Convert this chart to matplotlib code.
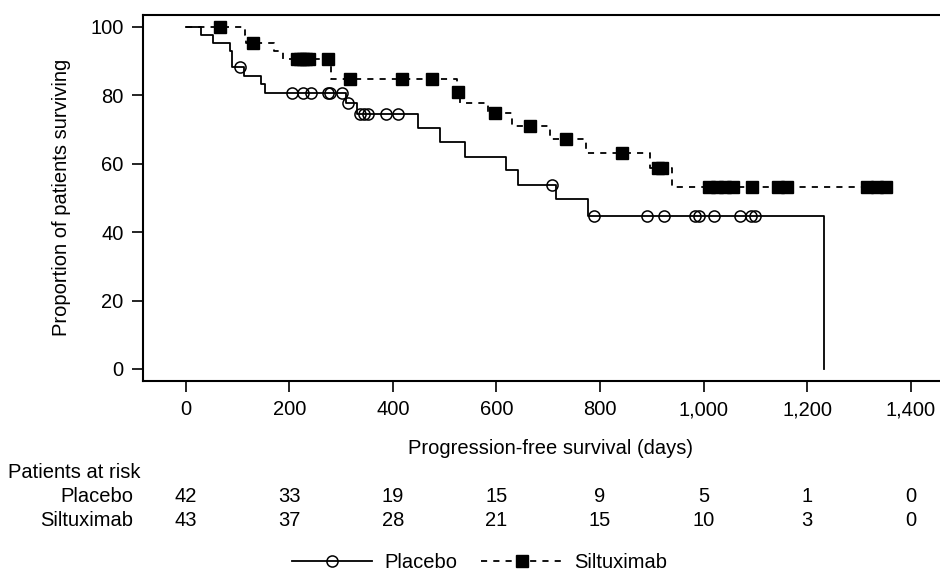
import matplotlib
matplotlib.use("Agg")
import matplotlib.pyplot as plt
import numpy as np
from matplotlib.lines import Line2D
from matplotlib.transforms import blended_transform_factory

plt.rcParams["font.family"] = ["Liberation Sans", "DejaVu Sans"]

# Kaplan-Meier steps (days, % surviving after the step)
PLACEBO_TIMES = [0, 30, 53, 86, 89, 113, 145, 154, 309, 331, 448, 490, 539, 618, 642, 714, 777, 1233]
PLACEBO_SURV = [100, 97.6, 95.2, 92.9, 88.1, 85.6, 83.2, 80.7, 77.8, 74.5, 70.3, 66.4, 62.0, 58.1, 53.8, 49.6, 44.7, 0]
PLACEBO_CENSOR = [105, 205, 226, 242, 275, 279, 301, 314, 336, 345, 352, 387, 410,
                  707, 789, 890, 924, 983, 991, 1020, 1071, 1091, 1099]

SILTUX_TIMES = [0, 114, 117, 171, 188, 280, 524, 530, 583, 629, 703, 773, 896, 938, 1352]
SILTUX_SURV = [100, 97.7, 95.3, 93.0, 90.6, 84.7, 81.0, 77.8, 74.7, 71.0, 67.2, 63.0, 58.6, 53.3, 53.3]
SILTUX_CENSOR = [66, 129, 215, 221, 227, 233, 239, 274, 317, 417, 476, 526, 597, 665, 734, 842,
                 911, 920, 1010, 1025, 1041, 1056, 1094, 1144, 1160, 1316, 1334, 1352]

RISK_TIMES = [0, 200, 400, 600, 800, 1000, 1200, 1400]
RISK_PLACEBO = [42, 33, 19, 15, 9, 5, 1, 0]
RISK_SILTUX = [43, 37, 28, 21, 15, 10, 3, 0]

Y_TICKS = [0, 20, 40, 60, 80, 100]

FS = 14.5
LW = 1.3
DASH = (0, (3.4, 3.4))


def _km_at(times, surv, t):
    """Value of the step curve at time t."""
    idx = np.searchsorted(np.asarray(times), np.asarray(t), side="right") - 1
    return np.asarray(surv)[idx]


fig = plt.figure(figsize=(9.4, 5.72), dpi=100)
# axes runs a bit past the right edge, like the cropped original
ax = fig.add_axes([143 / 940, (572 - 380.7) / 572, 814 / 940, 366 / 572])

ax.step(PLACEBO_TIMES, PLACEBO_SURV, where="post", color="black", lw=LW)
ax.plot(PLACEBO_CENSOR, _km_at(PLACEBO_TIMES, PLACEBO_SURV, PLACEBO_CENSOR), "o",
        mfc="none", mec="black", ms=8, mew=1.1, ls="none", zorder=3)

ax.step(SILTUX_TIMES, SILTUX_SURV, where="post", color="black", lw=LW, ls=DASH)
ax.plot(SILTUX_CENSOR, _km_at(SILTUX_TIMES, SILTUX_SURV, SILTUX_CENSOR), "s",
        color="black", ms=8.8, ls="none", zorder=3)

ax.set_xlim(-82.4, 1489)
ax.set_ylim(-3.42, 103.5)
ax.set_xticks(RISK_TIMES)
ax.set_xticklabels([f"{v:,}" for v in RISK_TIMES])
ax.set_yticks(Y_TICKS)
ax.tick_params(direction="out", length=8, width=1.2, labelsize=FS, pad=6)
ax.spines["right"].set_visible(False)
for side in ("left", "bottom", "top"):
    ax.spines[side].set_linewidth(1.5)

ax.set_xlabel("Progression-free survival (days)", fontsize=FS, labelpad=14)
ax.set_ylabel("Proportion of patients surviving", fontsize=FS, labelpad=14)

# patients at risk table
trans = blended_transform_factory(ax.transData, fig.transFigure)
fig.text(8 / 940, 1 - 472 / 572, "Patients at risk", fontsize=FS, ha="left", va="center")
for label, counts, ypx in (("Placebo", RISK_PLACEBO, 497), ("Siltuximab", RISK_SILTUX, 521)):
    y = 1 - ypx / 572
    fig.text(133 / 940, y, label, fontsize=FS, ha="right", va="center")
    for t, n in zip(RISK_TIMES, counts):
        ax.text(t, y, str(n), transform=trans, fontsize=FS, ha="center", va="center", clip_on=False)

handles = [
    Line2D([], [], color="black", lw=LW, marker="o", mfc="none", mec="black", ms=8, mew=1.1),
    Line2D([], [], color="black", lw=LW, ls=DASH, marker="s", ms=8.8),
]
fig.legend(handles, ["Placebo", "Siltuximab"], loc="center", bbox_to_anchor=(0.51, 1 - 563 / 572),
           ncol=2, frameon=False, fontsize=FS, handlelength=4, columnspacing=1.2, handletextpad=0.6)

fig.savefig("out.png", dpi=100)
